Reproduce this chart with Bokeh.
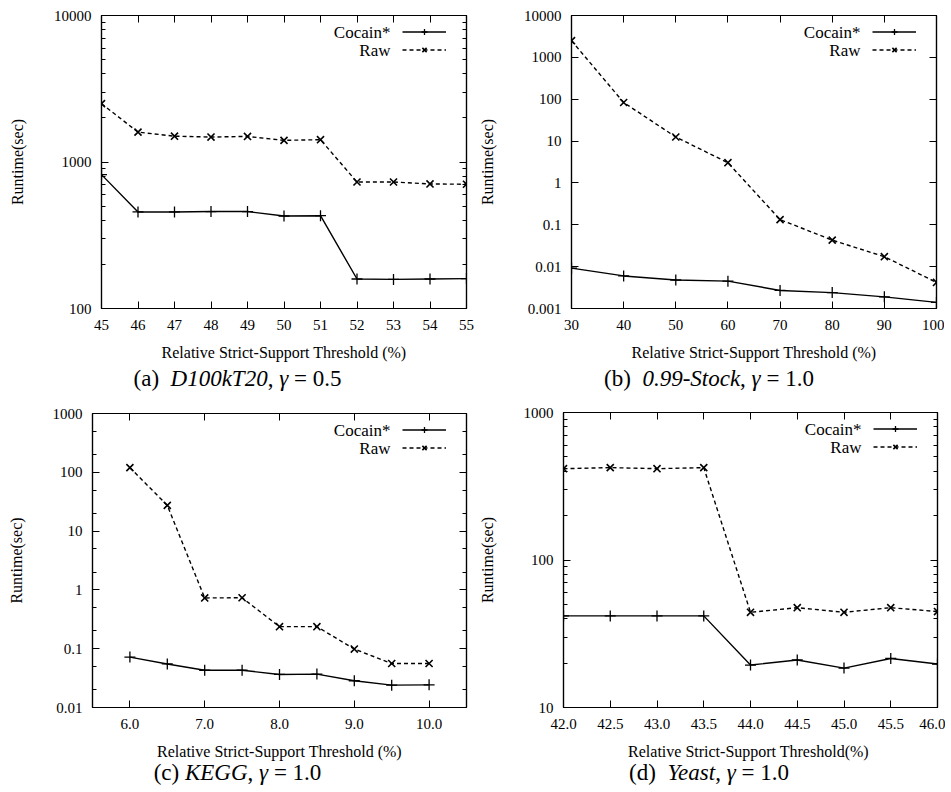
from bokeh.plotting import figure
from bokeh.models import (Range1d, FixedTicker, LinearAxis, LogAxis, Legend, LegendItem,
                          Label, Div, CustomJSTickFormatter, PrintfTickFormatter)
from bokeh.layouts import column, row
from bokeh.core.properties import value
from bokeh.embed import file_html
from bokeh.resources import INLINE

# ---------------- data ----------------
a_x = [45, 46, 47, 48, 49, 50, 51, 52, 53, 54, 55]
a_cocain = [820, 456, 456, 459, 459, 428, 430, 159, 158, 159, 160]
a_raw = [2500, 1600, 1500, 1480, 1495, 1405, 1420, 730, 730, 708, 705]

b_x = [30, 40, 50, 60, 70, 80, 90, 100]
b_cocain = [0.0092, 0.0060, 0.0048, 0.0045, 0.0027, 0.0024, 0.0019, 0.0014]
b_raw = [2500, 83.5, 12.5, 3.04, 0.133, 0.043, 0.0173, 0.0042]

c_x = [6.0, 6.5, 7.0, 7.5, 8.0, 8.5, 9.0, 9.5, 10.0]
c_cocain = [0.072, 0.055, 0.043, 0.043, 0.0365, 0.037, 0.0285, 0.024, 0.0243]
c_raw = [120, 27.4, 0.73, 0.735, 0.237, 0.237, 0.0987, 0.056, 0.056]

d_x = [42.0, 42.5, 43.0, 43.5, 44.0, 44.5, 45.0, 45.5, 46.0]
d_cocain = [41.8, 41.8, 41.8, 41.8, 19.4, 21.0, 18.5, 21.5, 19.7]
d_raw = [416, 423, 416, 423, 44.2, 47.5, 44.2, 47.5, 44.7]

a_xticks = [45, 46, 47, 48, 49, 50, 51, 52, 53, 54, 55]
b_xticks = [30, 40, 50, 60, 70, 80, 90, 100]
c_xticks = [6.0, 7.0, 8.0, 9.0, 10.0]
d_xticks = [42.0, 42.5, 43.0, 43.5, 44.0, 44.5, 45.0, 45.5, 46.0]

a_yticks = [100, 1000, 10000]
b_yticks = [0.001, 0.01, 0.1, 1, 10, 100, 1000, 10000]
c_yticks = [0.01, 0.1, 1, 10, 100, 1000]
d_yticks = [10, 100, 1000]

series_names = ["Cocain*", "Raw"]
x_label = "Relative Strict-Support Threshold (%)"
x_label_d = "Relative Strict-Support  Threshold(%)"
y_label = "Runtime(sec)"

captions = [
    "(a)&nbsp;&nbsp;<i>D100kT20</i>, <i>&gamma;</i>&nbsp;=&nbsp;0.5",
    "(b)&nbsp;&nbsp;<i>0.99-Stock</i>, <i>&gamma;</i>&nbsp;=&nbsp;1.0",
    "(c) <i>KEGG</i>, <i>&gamma;</i>&nbsp;=&nbsp;1.0",
    "(d)&nbsp;&nbsp;<i>Yeast</i>, <i>&gamma;</i>&nbsp;=&nbsp;1.0",
]

FONT = "Liberation Serif"
PAGE = 8  # page margin offset


def minor_log(decades, mults):
    out = []
    for d in decades[:-1]:
        for m in mults:
            out.append(d * m)
    return out


def make_panel(xs, cocain, raw, xr, yr, xticks, yticks, yminor, xfmt,
               fw, fh, bl, br, bt, bb, xlab):
    p = figure(frame_width=fw, frame_height=fh, min_border_left=bl, min_border_right=br,
               min_border_top=bt, min_border_bottom=bb,
               x_range=Range1d(*xr), y_range=Range1d(*yr), y_axis_type="log",
               output_backend="svg", toolbar_location=None,
               background_fill_color="white", border_fill_color="white")
    p.xgrid.visible = False
    p.ygrid.visible = False
    p.outline_line_color = "black"
    p.outline_line_width = 1.2
    p.outline_line_alpha = 1.0

    xt = FixedTicker(ticks=xticks, minor_ticks=[])
    yt = FixedTicker(ticks=yticks, minor_ticks=yminor)
    yfmt = CustomJSTickFormatter(code="return tick.toString();")

    def style(ax, labels=True):
        ax.major_tick_in = 7
        ax.major_tick_out = 0
        ax.minor_tick_in = 4
        ax.minor_tick_out = 0
        ax.major_tick_line_color = "black"
        ax.minor_tick_line_color = "black"
        ax.axis_line_color = "black"
        ax.axis_line_width = 1.2
        if labels:
            ax.major_label_text_font = FONT
            ax.major_label_text_font_size = "15px"
            ax.major_label_text_color = "black"
            ax.axis_label_text_font = FONT
            ax.axis_label_text_font_size = "16px"
            ax.axis_label_text_font_style = "normal"
            ax.axis_label_text_color = "black"
        else:
            ax.major_label_text_font_size = "0px"
            ax.major_label_standoff = 0
            ax.major_label_text_color = None

    xa = p.xaxis[0]
    xa.ticker = xt
    xa.formatter = xfmt
    style(xa)
    xa.major_label_standoff = 11
    xa.axis_label = xlab
    xa.axis_label_standoff = 11

    ya = p.yaxis[0]
    ya.ticker = yt
    ya.formatter = yfmt
    style(ya)
    ya.major_label_standoff = 10
    ya.axis_label = y_label
    ya.axis_label_standoff = 25

    top = LinearAxis(ticker=xt)
    style(top, labels=False)
    p.add_layout(top, "above")
    right = LogAxis(ticker=yt)
    style(right, labels=False)
    p.add_layout(right, "right")

    l1 = p.line(xs, cocain, line_color="black", line_width=1.4)
    m1 = p.scatter(xs, cocain, marker="cross", size=11, line_color="black", line_width=1.3)
    l2 = p.line(xs, raw, line_color="black", line_width=1.4, line_dash="4 3")
    m2 = p.scatter(xs, raw, marker="x", size=10, line_color="black", line_width=1.6)

    leg = Legend(items=[LegendItem(label=value(" "), renderers=[l1, m1]),
                        LegendItem(label=value(" "), renderers=[l2, m2])],
                 location="top_right", margin=9, padding=0, spacing=3,
                 glyph_width=44, glyph_height=15, label_height=15, label_width=11,
                 label_standoff=0, label_text_font_size="1px",
                 border_line_color=None, background_fill_alpha=0)
    p.add_layout(leg)
    for i, name in enumerate(series_names):
        p.add_layout(Label(x=fw - 76, y=fh - 16.5 - 18 * i, x_units="screen", y_units="screen",
                           text=name, text_align="right", text_baseline="middle",
                           text_font=FONT, text_font_size="17px", text_color="black"))
    return p


def caption(html, w, h):
    return Div(text=html, width=w, height=h, margin=(0, 0, 0, 0),
               styles={"text-align": "center", "font-family": FONT, "font-size": "23px",
                       "line-height": f"{h}px", "color": "black", "white-space": "nowrap"})


fmt_int = PrintfTickFormatter(format="%d")
fmt_1 = PrintfTickFormatter(format="%.1f")

pa = make_panel(a_x, a_cocain, a_raw, (45, 55), (100, 10000), a_xticks, a_yticks,
                minor_log(a_yticks, range(2, 10)), fmt_int,
                365, 293, 93 + PAGE, 9, 7 + PAGE, 55, x_label)
pb = make_panel(b_x, b_cocain, b_raw, (30, 100), (0.001, 10000), b_xticks, b_yticks,
                [], PrintfTickFormatter(format="%d"),
                365, 293, 95, 8, 7 + PAGE, 55, x_label)
pc = make_panel(c_x, c_cocain, c_raw, (5.5, 10.5), (0.01, 1000), c_xticks, c_yticks,
                minor_log(c_yticks, [2, 5]), fmt_1,
                374, 294, 84 + PAGE, 9, 18, 52, x_label)
pd = make_panel(d_x, d_cocain, d_raw, (42, 46), (10, 1000), d_xticks, d_yticks,
                minor_log(d_yticks, range(2, 10)), PrintfTickFormatter(format="%.1f"),
                374, 295, 86, 8, 17, 52, x_label_d)

wa = 93 + PAGE + 365 + 9
wb = 95 + 365 + 8
wc = 84 + PAGE + 374 + 9
wd = 86 + 374 + 8

layout = column(
    row(column(pa, caption(captions[0], wa, 32), spacing=0),
        column(pb, caption(captions[1], wb, 32), spacing=0), spacing=0),
    row(column(pc, caption(captions[2], wc, 22), spacing=0),
        column(pd, caption(captions[3], wd, 22), spacing=0), spacing=0),
    spacing=0,
)

open("out.html", "w").write(file_html(layout, INLINE))
